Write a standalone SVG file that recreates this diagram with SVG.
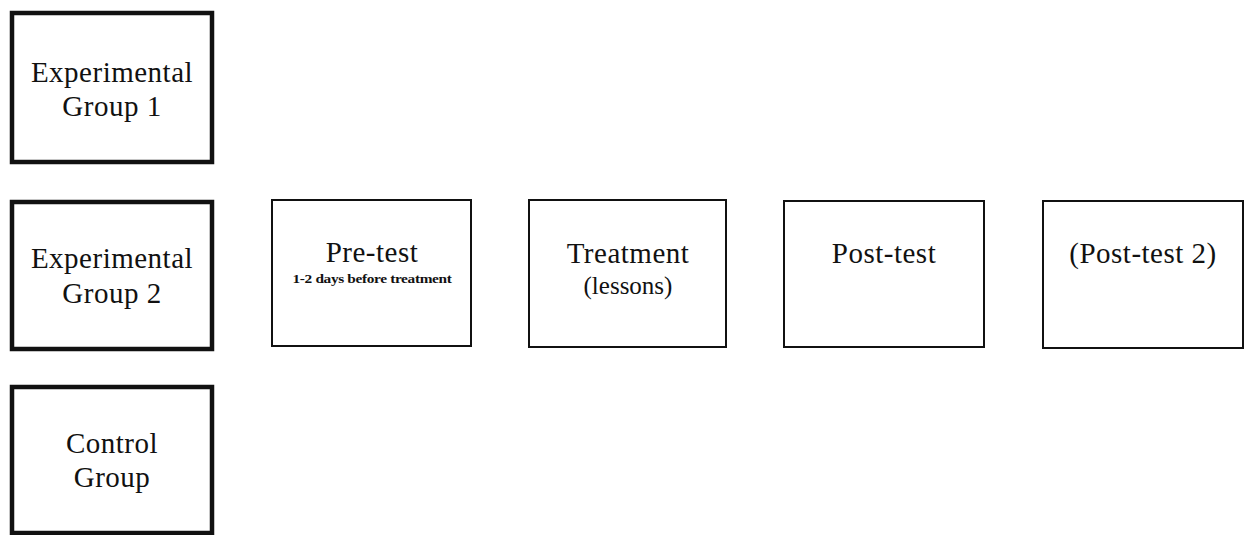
<svg xmlns="http://www.w3.org/2000/svg" width="1250" height="535" viewBox="0 0 1250 535">
<style>
  .thick { fill: #fff; stroke: #111; stroke-width: 4.5; }
  .thin { fill: #fff; stroke: #111; stroke-width: 2; }
  text { font-family: "Liberation Serif", "Times New Roman", serif; fill: #111; text-anchor: middle; }
  .lbl { font-size: 29px; letter-spacing: 0.5px; }
  .sub { font-size: 25px; }
  .tiny { font-size: 13px; font-weight: bold; letter-spacing: -0.3px; }
</style>
<rect width="1250" height="535" fill="#fff"/>
<g id="exp1">
  <rect class="thick" x="12" y="13" width="200" height="149"/>
  <text class="lbl" x="112" y="82">Experimental</text>
  <text class="lbl" x="112" y="116">Group 1</text>
</g>
<g id="exp2">
  <rect class="thick" x="12" y="202" width="200" height="147"/>
  <text class="lbl" x="112" y="268">Experimental</text>
  <text class="lbl" x="112" y="303">Group 2</text>
</g>
<g id="control">
  <rect class="thick" x="12" y="387" width="200" height="146"/>
  <text class="lbl" x="112" y="453">Control</text>
  <text class="lbl" x="112" y="487">Group</text>
</g>
<g id="pretest">
  <rect class="thin" x="272" y="200" width="199" height="146"/>
  <text class="lbl" x="372" y="262">Pre-test</text>
  <text class="tiny" x="372" y="283" textLength="159" lengthAdjust="spacingAndGlyphs">1-2 days before treatment</text>
</g>
<g id="treatment">
  <rect class="thin" x="529" y="200" width="197" height="147"/>
  <text class="lbl" x="628" y="263">Treatment</text>
  <text class="sub" x="628" y="294">(lessons)</text>
</g>
<g id="posttest">
  <rect class="thin" x="784" y="201" width="200" height="146"/>
  <text class="lbl" x="884" y="263">Post-test</text>
</g>
<g id="posttest2">
  <rect class="thin" x="1043" y="201" width="200" height="147"/>
  <text class="lbl" x="1143" y="263">(Post-test 2)</text>
</g>
<g id="connectors"></g>
</svg>
